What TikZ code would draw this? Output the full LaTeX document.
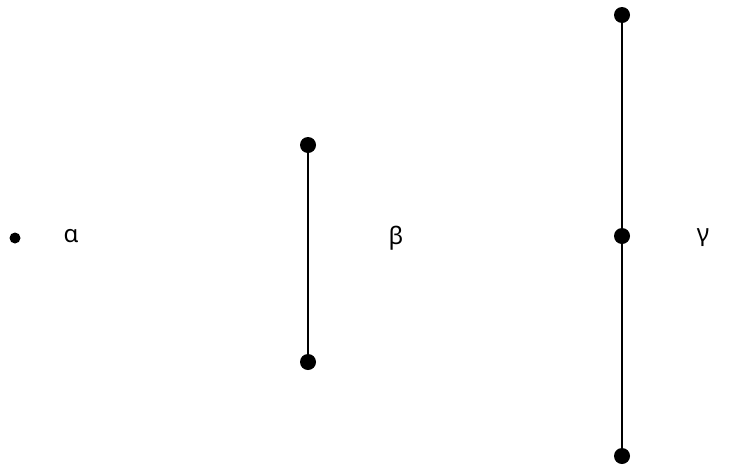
\documentclass[tikz,border=0pt]{standalone}
\usepackage{fontspec}
\setmainfont{Noto Sans}
\usetikzlibrary{positioning}

\begin{document}
\begin{tikzpicture}[x=1pt,y=-1pt,font=\fontsize{24}{28}\selectfont]
\tikzset{
  pt/.style={circle,fill=black,inner sep=0pt,minimum size=16pt},
  spt/.style={circle,fill=black,inner sep=0pt,minimum size=11pt},
  ln/.style={line width=2.8pt}
}
\useasboundingbox (0,0) rectangle (735,469);
% alpha: one point
\node[spt] (a0) at (15,238) {};
\node (la) at (71,236) {α};
% beta: one edge
\node[pt] (b1) at (308,145) {};
\node[pt] (b2) at (308,362) {};
\draw[ln] (b1)--(b2);
\node (lb) at (396,238) {β};
% gamma: two edges
\node[pt] (c1) at (622,15) {};
\node[pt] (c2) at (622,236) {};
\node[pt] (c3) at (622,456) {};
\draw[ln] (c1)--(c2); \draw[ln] (c2)--(c3);
\node (lc) at (703,238) {γ};
\end{tikzpicture}
\end{document}
